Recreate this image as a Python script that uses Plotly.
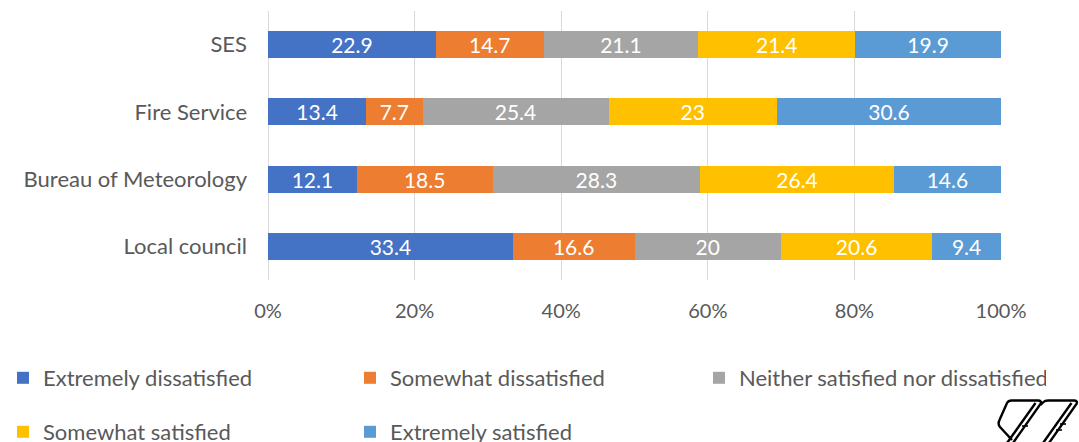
import plotly.graph_objects as go

categories = ["SES", "Fire Service", "Bureau of Meteorology", "Local council"]
series_names = ["Extremely dissatisfied", "Somewhat dissatisfied",
                "Neither satisfied nor dissatisfied", "Somewhat satisfied",
                "Extremely satisfied"]
extremely_dissatisfied = [22.9, 13.4, 12.1, 33.4]
somewhat_dissatisfied = [14.7, 7.7, 18.5, 16.6]
neither = [21.1, 25.4, 28.3, 20]
somewhat_satisfied = [21.4, 23, 26.4, 20.6]
extremely_satisfied = [19.9, 30.6, 14.6, 9.4]
tick_vals = [0, 20, 40, 60, 80, 100]
tick_text = ["0%", "20%", "40%", "60%", "80%", "100%"]

series_values = [extremely_dissatisfied, somewhat_dissatisfied, neither,
                 somewhat_satisfied, extremely_satisfied]
colors = ["#4472C4", "#ED7D31", "#A5A5A5", "#FFC000", "#5B9BD5"]
legend_ids = ["legend", "legend", "legend3", "legend2", "legend2"]

W, H = 1079, 442
L, R, T, B = 268, 1001, 11, 280
FONT = "Lato"
GREY = "#595959"


def px(x):
    return (x - L) / (R - L)


def py(y):
    return (B - y) / (B - T)


def P(x, y):
    return f"{px(x):.5f},{py(y):.5f}"


fig = go.Figure()
for name, vals, col, lg in zip(series_names, series_values, colors, legend_ids):
    fig.add_trace(go.Bar(
        y=categories, x=vals, name=name, orientation="h",
        marker=dict(color=col, line=dict(width=0)),
        text=[f"{v:g}" for v in vals], texttemplate="%{text}",
        textposition="inside", insidetextanchor="middle",
        constraintext="none", textangle=0,
        textfont=dict(family=FONT, size=21, color="white"),
        legend=lg,
    ))

# decorative logo (bottom-right corner), drawn in pixel space
def seg(points, w=2.4):
    return dict(type="path", xref="paper", yref="paper", layer="above",
                path="M " + " L ".join(P(x, y) for x, y in points),
                line=dict(color="black", width=w))


logo_shapes = [
    dict(type="path", xref="paper", yref="paper", layer="above",
         path=(f"M {P(1012, 440)} L {P(1000, 427)} Q {P(997.5, 424)} {P(999.5, 420)} "
               f"L {P(1007, 403)} Q {P(1008.5, 400.5)} {P(1011.5, 400.5)} "
               f"L {P(1038, 400.5)} Q {P(1042, 400.5)} {P(1040.5, 404)} L {P(1013, 443)}"),
         line=dict(color="black", width=2.4)),
    seg([(1035.5, 403), (1007, 443)]),
    seg([(1022, 426), (1028, 426)], 1.6),
    dict(type="path", xref="paper", yref="paper", layer="above",
         path=(f"M {P(1040.5, 405)} L {P(1043.5, 402)} Q {P(1045, 400.5)} {P(1048, 400.5)} "
               f"L {P(1074, 400.5)} Q {P(1078, 400.5)} {P(1076.5, 404)} L {P(1049, 443)}"),
         line=dict(color="black", width=2.4)),
    seg([(1071.5, 403), (1043, 443)]),
    seg([(1060, 424), (1066, 424)], 1.6),
    seg([(1056, 430), (1062, 430)], 1.6),
]

legend_common = dict(orientation="h", xanchor="left", yanchor="middle",
                     font=dict(family=FONT, size=22, color=GREY),
                     entrywidthmode="pixels", entrywidth=302,
                     bgcolor="rgba(0,0,0,0)", traceorder="normal")

fig.update_layout(
    width=W, height=H,
    margin=dict(l=L, r=W - R, t=T, b=H - B, pad=0, autoexpand=False),
    paper_bgcolor="white", plot_bgcolor="white",
    barmode="stack", barnorm="percent", bargap=0.6,
    font=dict(family=FONT, color=GREY),
    showlegend=True,
    legend=dict(x=px(3), y=py(378), **legend_common),
    legend3=dict(x=px(3 + 2 * 348), y=py(378), **legend_common),
    legend2=dict(x=px(3), y=py(432), **legend_common),
    xaxis=dict(range=[0, 100], tickvals=tick_vals, ticktext=tick_text,
               showgrid=True, gridcolor="#D9D9D9", gridwidth=1.3,
               zeroline=True, zerolinecolor="#D9D9D9", zerolinewidth=1.3,
               showline=False, ticks="", ticklabelstandoff=17,
               tickfont=dict(family=FONT, size=20, color=GREY), fixedrange=True),
    yaxis=dict(categoryorder="array", categoryarray=categories[::-1],
               showgrid=False, zeroline=False, showline=False, ticks="",
               ticklabelstandoff=20,
               tickfont=dict(family=FONT, size=22, color=GREY), fixedrange=True),
    shapes=logo_shapes,
)

fig.write_html("out.html")
